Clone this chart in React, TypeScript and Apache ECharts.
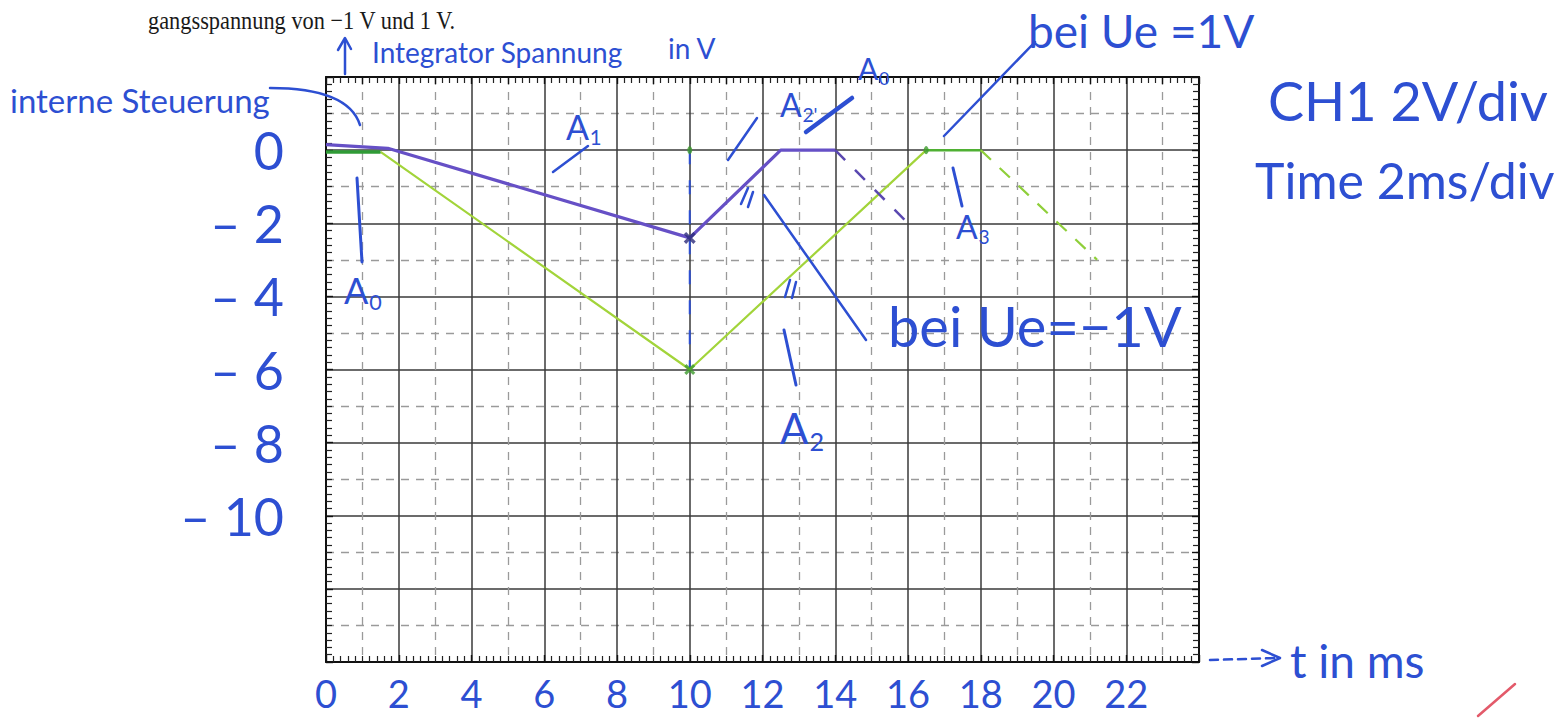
import { useEffect, useRef } from "react";
import * as echarts from "echarts";

// Oscilloscope screen: 12 x 8 divisions, 2 ms/div and 2 V/div
const timeMin = 0;
const timeMax = 24;
const voltMin = -14;
const voltMax = 2;

// Tick labels written under and left of the screen
const xTickValues = [0, 2, 4, 6, 8, 10, 12, 14, 16, 18, 20, 22];
const yTickValues = [0, -2, -4, -6, -8, -10];
const yTickTexts = ["0", "– 2", "– 4", "– 6", "– 8", "– 10"];

// Integrator voltage for Ue = -1 V (purple trace)
const purpleT = [0, 1.7, 10, 12.5, 14];
const purpleV = [0.15, 0.05, -2.4, 0, 0];
const purpleDashT = [14, 16];
const purpleDashV = [0, -2];

// Integrator voltage for Ue = 1 V (green trace)
const greenT = [1.5, 10, 16.5];
const greenV = [-0.05, -6, 0];
const greenFlatStartT = [0, 1.5];
const greenFlatStartV = [-0.05, -0.05];
const greenFlatEndT = [16.5, 18];
const greenFlatEndV = [0, 0];
const greenDashT = [18, 21.2];
const greenDashV = [0, -3];

// Pen marks
const markerT = [10];
const greenMarkV = [-6];
const purpleMarkV = [-2.4];
const cursorT = [10, 10];
const cursorV = [0, -6];
const dotT = [10, 16.5];
const dotV = [0, 0];

const pairs = (t: number[], v: number[]) => t.map((x, i) => [x, v[i]]);

const PEN = "#2d4fd2";
const HAND = 'Lato, "Open Sans", sans-serif';
const CROSS = "path://M0,2 L2,0 L5,3 L8,0 L10,2 L7,5 L10,8 L8,10 L5,7 L2,10 L0,8 L3,5 Z";

function txt(x: number, y: number, text: string, size: number, extra: any = {}) {
  return {
    type: "text",
    x,
    y,
    z: 100,
    style: {
      text,
      fontSize: size,
      fontFamily: HAND,
      fill: PEN,
      align: "left",
      verticalAlign: "middle",
      ...extra,
    },
  };
}

function indexed(x: number, y: number, main: string, index: string, size: number) {
  return [
    txt(x, y, main, size),
    txt(x + size * 0.7, y + size * 0.32, index, size * 0.6),
  ];
}

function stroke(points: number[][], width = 2.5, color = PEN, dash?: number[]) {
  return {
    type: "polyline",
    z: 100,
    shape: { points },
    style: {
      stroke: color,
      lineWidth: width,
      fill: "none",
      lineCap: "round",
      lineJoin: "round",
      lineDash: dash,
    },
  };
}

export default function App() {
  const ref = useRef<HTMLDivElement>(null);

  useEffect(() => {
    if (!ref.current) return;
    const chart = echarts.init(ref.current, undefined, { renderer: "svg" });

    const border = { show: true, onZero: false, lineStyle: { color: "#111", width: 2 } };
    const tick = { show: true, inside: true, length: 7, lineStyle: { color: "#111", width: 1.4 } };
    const minor = (n: number) => ({
      show: true,
      splitNumber: n,
      length: 6,
      lineStyle: { color: "#222", width: 1.2 },
    });
    const halfLines = {
      show: true,
      lineStyle: { color: ["rgba(0,0,0,0)", "#9a9a9a"], width: 1.3, type: [8, 7] },
    };

    chart.setOption({
      animation: false,
      backgroundColor: "#ffffff",
      grid: { left: 326, top: 77, width: 873, height: 585, containLabel: false },
      xAxis: [
        {
          type: "value",
          position: "bottom",
          min: timeMin,
          max: timeMax,
          interval: 2,
          axisLine: border,
          axisTick: tick,
          minorTick: minor(10),
          splitLine: { show: true, lineStyle: { color: "#3a3a3a", width: 1.5 } },
          axisLabel: {
            margin: 12,
            color: PEN,
            fontSize: 38,
            fontFamily: HAND,
            formatter: (v: number) => (xTickValues.includes(v) ? String(v) : ""),
          },
        },
        {
          type: "value",
          position: "top",
          min: timeMin,
          max: timeMax,
          interval: 1,
          axisLine: border,
          axisTick: tick,
          minorTick: minor(5),
          splitLine: halfLines,
          axisLabel: { show: false },
        },
      ],
      yAxis: [
        {
          type: "value",
          position: "left",
          min: voltMin,
          max: voltMax,
          interval: 2,
          axisLine: border,
          axisTick: tick,
          minorTick: minor(10),
          splitLine: { show: true, lineStyle: { color: "#3a3a3a", width: 1.5 } },
          axisLabel: {
            margin: 42,
            color: PEN,
            fontSize: 52,
            fontFamily: HAND,
            formatter: (v: number) => {
              const i = yTickValues.indexOf(v);
              return i >= 0 ? yTickTexts[i] : "";
            },
          },
        },
        {
          type: "value",
          position: "right",
          min: voltMin,
          max: voltMax,
          interval: 1,
          axisLine: border,
          axisTick: tick,
          minorTick: minor(5),
          splitLine: halfLines,
          axisLabel: { show: false },
        },
      ],
      series: [
        {
          type: "line",
          data: pairs(cursorT, cursorV),
          symbol: "none",
          lineStyle: { color: PEN, width: 2, type: [14, 16] },
          z: 3,
        },
        {
          type: "line",
          data: pairs(greenT, greenV),
          symbol: "none",
          lineStyle: { color: "#a2d43a", width: 2.2 },
          z: 4,
        },
        {
          type: "line",
          data: pairs(greenFlatStartT, greenFlatStartV),
          symbol: "none",
          lineStyle: { color: "#2f9b36", width: 3.5 },
          z: 4,
        },
        {
          type: "line",
          data: pairs(greenFlatEndT, greenFlatEndV),
          symbol: "none",
          lineStyle: { color: "#4fb033", width: 2.5 },
          z: 4,
        },
        {
          type: "line",
          data: pairs(greenDashT, greenDashV),
          symbol: "none",
          lineStyle: { color: "#8fcf3a", width: 2.2, type: [14, 12] },
          z: 4,
        },
        {
          type: "line",
          data: pairs(purpleT, purpleV),
          symbol: "none",
          lineStyle: { color: "#6650c6", width: 3.2 },
          z: 5,
        },
        {
          type: "line",
          data: pairs(purpleDashT, purpleDashV),
          symbol: "none",
          lineStyle: { color: "#5a48b0", width: 2.5, type: [14, 14] },
          z: 5,
        },
        {
          type: "scatter",
          data: pairs(markerT, greenMarkV),
          symbol: CROSS,
          symbolSize: 11,
          itemStyle: { color: "#3c9a2c" },
          z: 6,
        },
        {
          type: "scatter",
          data: pairs(markerT, purpleMarkV),
          symbol: CROSS,
          symbolSize: 12,
          itemStyle: { color: "#2c2a7a" },
          z: 6,
        },
        {
          type: "scatter",
          data: pairs(dotT, dotV),
          symbol: "circle",
          symbolSize: [5, 8],
          itemStyle: { color: "#3c9a2c" },
          z: 6,
        },
      ],
      graphic: [
        {
          type: "text",
          x: 148,
          y: 20,
          scaleX: 0.86,
          z: 100,
          style: {
            text: "gangsspannung von −1 V und 1 V.",
            fontSize: 26,
            fontFamily: '"Liberation Serif", "DejaVu Serif", serif',
            fill: "#1a1a1a",
            verticalAlign: "middle",
          },
        },
        txt(10, 100, "interne Steuerung", 33),
        txt(372, 52, "Integrator Spannung", 28),
        txt(668, 48, "in V", 28),
        txt(1028, 30, "bei Ue =1V", 46),
        txt(1268, 100, "CH1 2V/div", 54),
        txt(1255, 180, "Time 2ms/div", 50),
        txt(888, 325, "bei Ue=−1V", 56),
        txt(1290, 660, "t in ms", 46),
        ...indexed(566, 126, "A", "1", 34),
        ...indexed(780, 104, "A", "2'", 32),
        ...indexed(858, 68, "A", "0", 30),
        ...indexed(780, 428, "A", "2", 42),
        ...indexed(956, 226, "A", "3", 32),
        ...indexed(344, 290, "A", "0", 36),
        // pen strokes
        stroke([[345, 74], [345, 40]]),
        stroke([[338, 50], [345, 38], [351, 49]]),
        {
          type: "bezierCurve",
          z: 100,
          shape: { x1: 270, y1: 88, cpx1: 320, cpy1: 88, cpx2: 352, cpy2: 100, x2: 360, y2: 125 },
          style: { stroke: PEN, lineWidth: 2.5, fill: "none", lineCap: "round" },
        },
        stroke([[357, 178], [362, 262]], 3),
        stroke([[553, 172], [588, 146]]),
        stroke([[728, 160], [757, 118]]),
        stroke([[806, 132], [852, 98]], 4.5),
        stroke([[944, 136], [1035, 42]]),
        stroke([[953, 168], [962, 206]], 3),
        stroke([[764, 195], [866, 340]]),
        stroke([[784, 330], [796, 385]], 3),
        stroke([[741, 204], [748, 188]], 2.5),
        stroke([[748, 207], [753, 192]], 2.5),
        stroke([[785, 297], [790, 280]], 2.5),
        stroke([[792, 298], [796, 282]], 2.5),
        stroke([[1210, 660], [1278, 658]], 2.5, PEN, [8, 6]),
        stroke([[1262, 650], [1280, 658], [1262, 666]], 2.5),
        stroke([[1478, 716], [1515, 684]], 2.5, "#e35a6a"),
      ],
    });

    return () => chart.dispose();
  }, []);

  return (
    <div
      ref={ref}
      style={{ position: "fixed", left: 0, top: 0, width: 1567, height: 719, background: "#fff" }}
    />
  );
}
